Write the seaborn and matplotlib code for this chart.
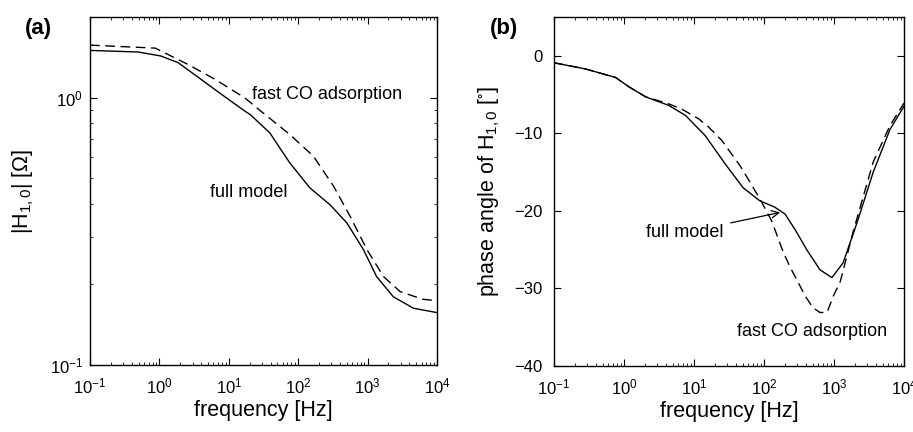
"""
Bode plots of H_{1,0}: magnitude (a) and phase angle (b),
full model vs. fast CO adsorption.
"""

import numpy as np
import pandas as pd
import matplotlib
matplotlib.use('Agg')
import matplotlib.pyplot as plt
import seaborn as sns

# ==========================================================================
# DATA (frequencies given as log10(f))
# ==========================================================================
# (a) magnitude |H_1,0| in Ohm
mag_full_logf = [-1.0, -0.31, 0.02, 0.27, 0.56, 0.89, 1.23, 1.31, 1.59, 1.88,
                 2.17, 2.46, 2.70, 2.94, 3.13, 3.37, 3.66, 4.0]
mag_full = [1.50, 1.48, 1.43, 1.35, 1.19, 1.03, 0.89, 0.863, 0.738, 0.569,
            0.459, 0.397, 0.34, 0.27, 0.214, 0.18, 0.163, 0.157]

mag_fast_logf = [-1.0, -0.06, 0.41, 0.80, 1.23, 1.46, 1.88, 2.22, 2.51, 2.75,
                 2.99, 3.23, 3.47, 3.80, 4.0]
mag_fast = [1.57, 1.53, 1.33, 1.17, 0.997, 0.89, 0.727, 0.603, 0.466, 0.359,
            0.27, 0.214, 0.188, 0.176, 0.174]

# (b) phase angle in degrees
ph_full_logf = [-1.0, -0.55, -0.12, 0.07, 0.31, 0.64, 0.88, 1.16, 1.45, 1.70,
                1.94, 2.15, 2.30, 2.45, 2.61, 2.80, 2.97, 3.13, 3.33, 3.56, 3.80, 4.0]
ph_full = [-0.9, -1.7, -2.8, -4.0, -5.3, -6.4, -7.7, -10.3, -14.0, -17.0,
           -18.7, -19.5, -20.4, -22.5, -25.0, -27.6, -28.6, -26.7, -21.5, -15.0, -9.5, -6.5]

ph_fast_logf = [-1.0, -0.55, -0.12, 0.07, 0.31, 0.64, 0.83, 1.07, 1.21, 1.40,
                1.66, 1.80, 1.95, 2.11, 2.27, 2.37, 2.47, 2.59, 2.70, 2.80,
                2.90, 2.99, 3.09, 3.27, 3.56, 3.80, 4.0]
ph_fast = [-0.9, -1.7, -2.8, -4.0, -5.3, -6.2, -6.9, -8.15, -9.2, -10.95,
           -14.2, -16.3, -18.6, -21.3, -25.2, -27.2, -28.9, -31.0, -32.5, -33.1,
           -33.1, -31.0, -29.1, -22.8, -13.7, -9.0, -6.1]

def to_df(logf, vals, name):
    return pd.DataFrame({'f': np.power(10.0, logf), 'v': vals, 'model': name})

mag_df = pd.concat([to_df(mag_full_logf, mag_full, 'full model'),
                    to_df(mag_fast_logf, mag_fast, 'fast CO adsorption')])
ph_df = pd.concat([to_df(ph_full_logf, ph_full, 'full model'),
                   to_df(ph_fast_logf, ph_fast, 'fast CO adsorption')])

# ==========================================================================
# STYLE
# ==========================================================================
sns.set_style('ticks')
plt.rcParams['font.family'] = ['Liberation Sans', 'DejaVu Sans']
plt.rcParams['mathtext.fontset'] = 'custom'
plt.rcParams['mathtext.rm'] = 'Liberation Sans'
plt.rcParams['mathtext.it'] = 'Liberation Sans:italic'
plt.rcParams['mathtext.default'] = 'regular'
plt.rcParams['axes.linewidth'] = 1.0
plt.rcParams['axes.edgecolor'] = 'black'
plt.rcParams['text.color'] = 'black'
plt.rcParams['axes.labelcolor'] = 'black'

dashes = {'full model': '', 'fast CO adsorption': (7, 4)}
palette = {'full model': 'black', 'fast CO adsorption': 'black'}

fig = plt.figure(figsize=(9.13, 4.32), dpi=100)
ax1 = fig.add_axes([90 / 913, 67 / 432, 347 / 913, 348 / 432])
ax2 = fig.add_axes([554 / 913, 66 / 432, 350 / 913, 349 / 432])

# ==========================================================================
# (a) MAGNITUDE
# ==========================================================================
sns.lineplot(data=mag_df, x='f', y='v', hue='model', style='model',
             dashes=dashes, palette=palette, linewidth=1.0, legend=False,
             sort=False, ax=ax1)
ax1.set_xscale('log')
ax1.set_yscale('log')
ax1.set_xlim(0.1, 1e4)
ax1.set_ylim(0.1, 2.0)
ax1.set_xticks([1e-1, 1e0, 1e1, 1e2, 1e3, 1e4])
ax1.set_yticks([1e-1, 1e0])
ax1.set_xlabel('frequency [Hz]', fontsize=15.5, labelpad=3)
ax1.set_ylabel(r'|H$_{1,0}$| [$\Omega$]', fontsize=15.5, labelpad=10)
ax1.text(10 ** 2.41, 1.03, 'fast CO adsorption', fontsize=13, ha='center', va='center')
ax1.text(10 ** 1.29, 0.442, 'full model', fontsize=13, ha='center', va='center')
ax1.text(-0.187, 0.966, '(a)', transform=ax1.transAxes, fontsize=16,
         fontweight='bold', ha='left', va='center')
ax1.tick_params(axis='y', which='both', pad=5)

# ==========================================================================
# (b) PHASE ANGLE
# ==========================================================================
sns.lineplot(data=ph_df, x='f', y='v', hue='model', style='model',
             dashes=dashes, palette=palette, linewidth=1.0, legend=False,
             sort=False, ax=ax2)
ax2.set_xscale('log')
ax2.set_xlim(0.1, 1e4)
ax2.set_ylim(-40, 5)
ax2.set_xticks([1e-1, 1e0, 1e1, 1e2, 1e3, 1e4])
ax2.set_yticks([-40, -30, -20, -10, 0])
ax2.set_xlabel('frequency [Hz]', fontsize=15.5, labelpad=3)
ax2.set_ylabel(r'phase angle of H$_{1,0}$ [$^{\circ}$]', fontsize=15.5, labelpad=9)
ax2.annotate('full model', xy=(10 ** 2.23, -20.2), xytext=(10 ** 1.42, -22.8),
             fontsize=13, ha='right', va='center',
             arrowprops=dict(arrowstyle='->', color='black', lw=0.9,
                             shrinkA=3, shrinkB=0))
ax2.text(10 ** 2.68, -35.6, 'fast CO adsorption', fontsize=13, ha='center', va='center')
ax2.text(-0.183, 0.966, '(b)', transform=ax2.transAxes, fontsize=16,
         fontweight='bold', ha='left', va='center')
ax2.tick_params(axis='y', which='both', pad=8)

for ax in (ax1, ax2):
    ax.tick_params(which='both', direction='in', top=True, right=True,
                   labelsize=12, colors='black')
    ax.tick_params(axis='x', which='both', pad=8)
    ax.tick_params(which='major', length=5, width=0.8)
    ax.tick_params(which='minor', length=2.5, width=0.6)
    for sp in ax.spines.values():
        sp.set_visible(True)

plt.savefig('out.png', dpi=100)
plt.close()
